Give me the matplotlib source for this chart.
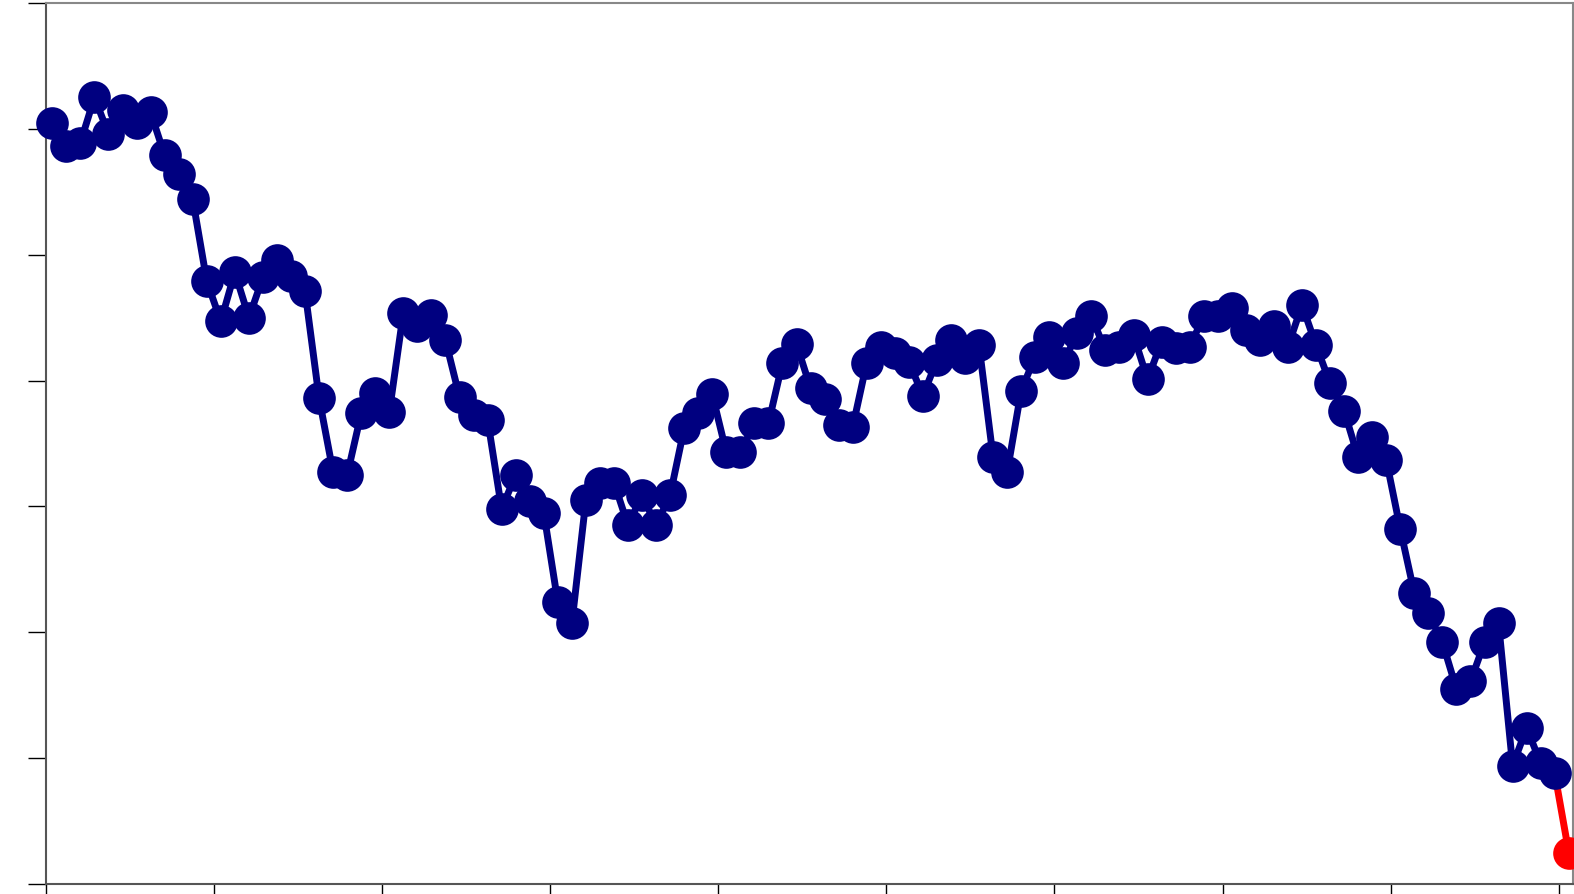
import matplotlib
matplotlib.use("Agg")
import matplotlib.pyplot as plt
import numpy as np

# valores (eixo y em unidades de marca: 0..7)
valores = [6.05, 5.86, 5.89, 6.25, 5.96, 6.15, 6.05, 6.13, 5.79, 5.64,
           5.44, 4.79, 4.47, 4.86, 4.50, 4.82, 4.96, 4.83, 4.71, 3.86,
           3.27, 3.25, 3.74, 3.90, 3.75, 4.54, 4.43, 4.52, 4.32, 3.87,
           3.73, 3.69, 2.98, 3.25, 3.04, 2.95, 2.24, 2.07, 3.05, 3.19,
           3.19, 2.85, 3.09, 2.85, 3.09, 3.62, 3.74, 3.89, 3.43, 3.43,
           3.66, 3.66, 4.14, 4.29, 3.94, 3.85, 3.65, 3.63, 4.14, 4.27,
           4.22, 4.15, 3.88, 4.16, 4.32, 4.18, 4.28, 3.39, 3.27, 3.92,
           4.19, 4.35, 4.14, 4.38, 4.51, 4.24, 4.27, 4.36, 4.01, 4.31,
           4.26, 4.27, 4.51, 4.51, 4.58, 4.40, 4.32, 4.43, 4.27, 4.60,
           4.28, 3.98, 3.76, 3.39, 3.55, 3.37, 2.82, 2.31, 2.15, 1.92,
           1.55, 1.61, 1.92, 2.07, 0.94, 1.24, 0.96, 0.88]
ultimo = 0.25

x = np.arange(len(valores))
x_ult = len(valores)

fig = plt.figure(figsize=(15.74, 8.94), dpi=100)
ax = fig.add_axes([46/1574, 10/894, 1527/1574, 881/894])

# segmento final em vermelho
ax.plot([x[-1], x_ult], [valores[-1], ultimo], color='red', lw=5, zorder=2,
        clip_on=False)
ax.plot(x, valores, color='#000080', lw=5, marker='o', markersize=23.5,
        markeredgewidth=0, zorder=3, clip_on=False)
ax.plot([x_ult], [ultimo], color='red', marker='o', markersize=23.5,
        markeredgewidth=0, zorder=4, clip_on=False)

ax.set_xlim(-0.45, 108.3)
ax.set_ylim(0, 7)
ax.set_xticks(-0.45 + 11.97*np.arange(10))
ax.set_yticks(np.arange(8))
ax.tick_params(direction='out', length=13, width=1, color='black',
               labelleft=False, labelbottom=False)
for s in ['top', 'right']:
    ax.spines[s].set_color('#888888')
    ax.spines[s].set_linewidth(1.5)
for s in ['left', 'bottom']:
    ax.spines[s].set_color('#555555')
    ax.spines[s].set_linewidth(1.5)

fig.savefig("out.png", dpi=100)
